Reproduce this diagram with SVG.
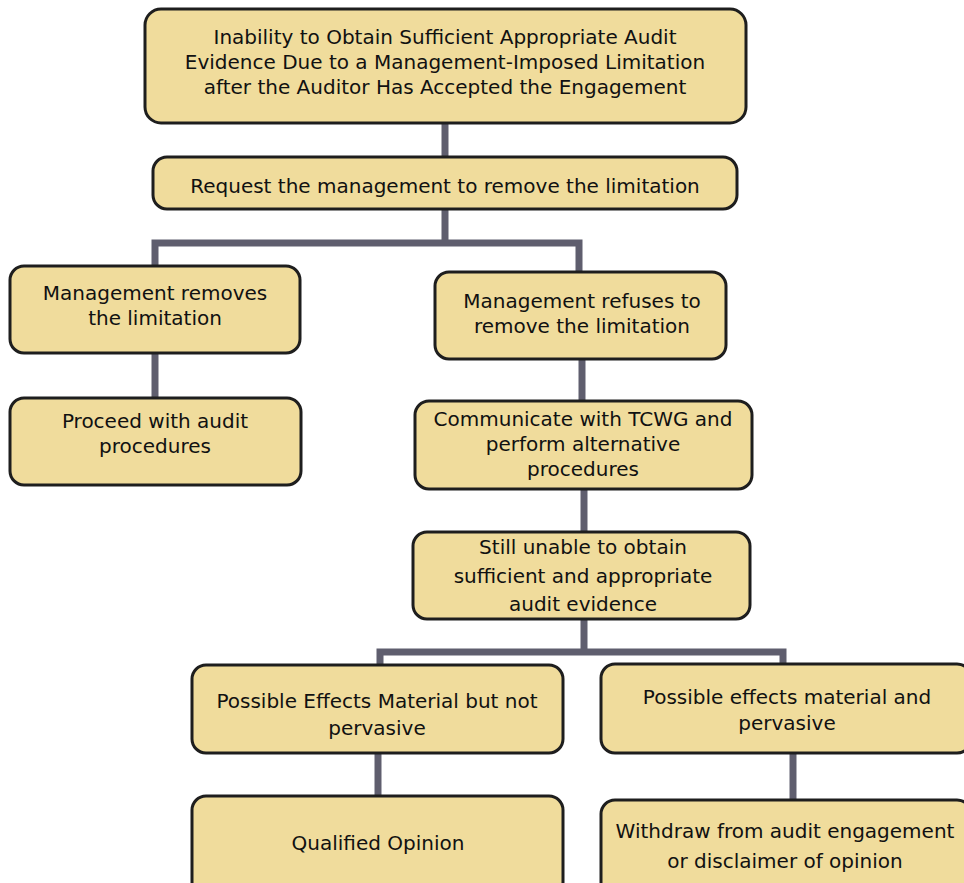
<svg xmlns="http://www.w3.org/2000/svg" width="964" height="883" viewBox="0 0 964 883">
  <style>
    .box { fill: #F0DC9C; stroke: #1E1E1E; stroke-width: 3; }
    .link { fill: none; stroke: #5F5E6E; stroke-width: 7; stroke-linejoin: miter; }
    text { font-family: "Comic Sans MS", "DejaVu Sans", "Liberation Sans", sans-serif; font-size: 20px; fill: #111; text-anchor: middle; }
  </style>
  <rect width="964" height="883" fill="#FFFFFF"/>

  <!-- connectors -->
  <g id="connectors">
    <path class="link" d="M445,123 V157"/>
    <path class="link" d="M445,209 V243 M155,266 V243 H579 V272"/>
    <path class="link" d="M155,353 V398"/>
    <path class="link" d="M582,359 V401"/>
    <path class="link" d="M584,489 V532"/>
    <path class="link" d="M584,619 V652 M380,665 V652 H783 V664"/>
    <path class="link" d="M378,753 V796"/>
    <path class="link" d="M793,753 V800"/>
  </g>

  <g id="n-inability">
    <rect class="box" x="145" y="9" width="601" height="114" rx="16"/>
    <text x="445" y="44">Inability to Obtain Sufficient Appropriate Audit</text>
    <text x="445" y="69">Evidence Due to a Management-Imposed Limitation</text>
    <text x="445" y="94">after the Auditor Has Accepted the Engagement</text>
  </g>

  <g id="n-request">
    <rect class="box" x="153" y="157" width="584" height="52" rx="14"/>
    <text x="445" y="193">Request the management to remove the limitation</text>
  </g>

  <g id="n-removes">
    <rect class="box" x="10" y="266" width="290" height="87" rx="14"/>
    <text x="155" y="300">Management removes</text>
    <text x="155" y="325">the limitation</text>
  </g>

  <g id="n-refuses">
    <rect class="box" x="435" y="272" width="291" height="87" rx="14"/>
    <text x="582" y="308">Management refuses to</text>
    <text x="582" y="333">remove the limitation</text>
  </g>

  <g id="n-proceed">
    <rect class="box" x="10" y="398" width="291" height="87" rx="14"/>
    <text x="155" y="428">Proceed with audit</text>
    <text x="155" y="453">procedures</text>
  </g>

  <g id="n-communicate">
    <rect class="box" x="415" y="401" width="337" height="88" rx="14"/>
    <text x="583" y="426">Communicate with TCWG and</text>
    <text x="583" y="451">perform alternative</text>
    <text x="583" y="476">procedures</text>
  </g>

  <g id="n-still-unable">
    <rect class="box" x="413" y="532" width="337" height="87" rx="14"/>
    <text x="583" y="554">Still unable to obtain</text>
    <text x="583" y="583">sufficient and appropriate</text>
    <text x="583" y="611">audit evidence</text>
  </g>

  <g id="n-not-pervasive">
    <rect class="box" x="192" y="665" width="371" height="88" rx="14"/>
    <text x="377" y="708">Possible Effects Material but not</text>
    <text x="377" y="735">pervasive</text>
  </g>

  <g id="n-pervasive">
    <rect class="box" x="601" y="664" width="370" height="89" rx="14"/>
    <text x="787" y="704">Possible effects material and</text>
    <text x="787" y="730">pervasive</text>
  </g>

  <g id="n-qualified">
    <rect class="box" x="192" y="796" width="371" height="100" rx="14"/>
    <text x="378" y="850">Qualified Opinion</text>
  </g>

  <g id="n-withdraw">
    <rect class="box" x="601" y="800" width="370" height="100" rx="14"/>
    <text x="785" y="838">Withdraw from audit engagement</text>
    <text x="785" y="868">or disclaimer of opinion</text>
  </g>
</svg>
